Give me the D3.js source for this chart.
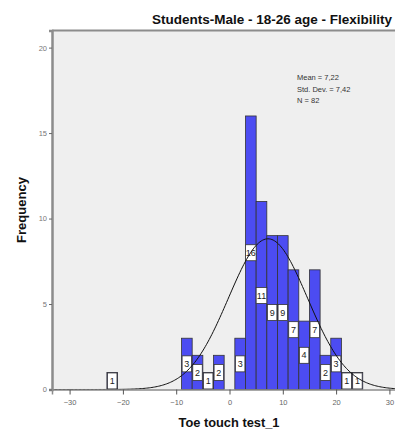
<!DOCTYPE html>
<html>
<head>
<meta charset="utf-8">
<script src="https://cdn.jsdelivr.net/npm/d3@7"></script>
<style>
  html, body { margin: 0; padding: 0; background: #fff; }
  svg { display: block; font-family: "Liberation Sans", Arial, sans-serif; }
</style>
</head>
<body>
<svg id="chart" width="395" height="431"></svg>
<script>
// histogram bins (lower edge, width 2) and counts
const binLow = [-23, -9, -7, -5, -3, 1, 3, 5, 7, 9, 11, 13, 15, 17, 19, 21, 23];
const counts = [1, 3, 2, 1, 2, 3, 16, 11, 9, 9, 7, 4, 7, 2, 3, 1, 1];
const binWidth = 2;

const xTicks = [-30, -20, -10, 0, 10, 20, 30];
const yTicks = [0, 5, 10, 15, 20];

const mean = 7.22;
const sd = 7.42;
const n = 82;
const statLines = ['Mean = 7,22', 'Std. Dev. = 7,42', 'N = 82'];

const title = 'Students-Male - 18-26 age - Flexibility';
const xTitle = 'Toe touch test_1';
const yTitle = 'Frequency';

const svg = d3.select('#chart');

const x = d3.scaleLinear().domain([-33.3, 33.3]).range([52, 407]);
const y = d3.scaleLinear().domain([0, 21]).range([389.5, 30.5]);

// plot background
svg.append('rect')
  .attr('x', x(-33.3)).attr('y', y(21))
  .attr('width', x(33.3) - x(-33.3))
  .attr('height', y(0) - y(21))
  .attr('fill', '#efefef');

// frame top
svg.append('line')
  .attr('x1', x(-33.3)).attr('x2', 400)
  .attr('y1', y(21)).attr('y2', y(21))
  .attr('stroke', '#8c8c8c').attr('stroke-width', 2);

// title
svg.append('text')
  .attr('x', 392).attr('y', 24)
  .attr('text-anchor', 'end')
  .attr('textLength', 240)
  .attr('lengthAdjust', 'spacingAndGlyphs')
  .style('font-size', '12px').style('font-weight', 'bold')
  .attr('fill', '#111')
  .text(title);

const data = binLow.map((b, i) => ({ low: b, count: counts[i] }));

// bars
svg.selectAll('.bar')
  .data(data)
  .enter()
  .append('rect')
  .attr('class', 'bar')
  .attr('x', d => x(d.low))
  .attr('y', d => y(d.count))
  .attr('width', d => x(d.low + binWidth) - x(d.low))
  .attr('height', d => y(0) - y(d.count))
  .attr('fill', '#4c4cf2')
  .attr('stroke', '#333')
  .attr('stroke-width', 0.8);

// count labels at bar middle
const boxW = d => Math.min(String(d.count).length > 1 ? 13 : 9.5, x(d.low + binWidth) - x(d.low));
const boxH = d => Math.min(16, y(0) - y(d.count));

const labels = svg.selectAll('.lab')
  .data(data)
  .enter()
  .append('g')
  .attr('class', 'lab')
  .attr('transform', d => `translate(${x(d.low + binWidth / 2)},${(y(0) + y(d.count)) / 2})`);

labels.append('rect')
  .attr('x', d => -boxW(d) / 2)
  .attr('y', d => -boxH(d) / 2)
  .attr('width', boxW)
  .attr('height', boxH)
  .attr('fill', '#fff')
  .attr('stroke', '#333')
  .attr('stroke-width', 0.8);

labels.append('text')
  .attr('text-anchor', 'middle')
  .attr('dy', '0.35em')
  .style('font-size', '9px')
  .attr('fill', '#222')
  .text(d => d.count);

// normal curve
const curvePts = d3.range(-33.3, 33.31, 0.25).map(v => ({
  v,
  f: n * binWidth / (sd * Math.sqrt(2 * Math.PI)) * Math.exp(-0.5 * ((v - mean) / sd) ** 2)
}));
svg.append('path')
  .datum(curvePts)
  .attr('fill', 'none')
  .attr('stroke', '#111')
  .attr('stroke-width', 1)
  .attr('d', d3.line().x(d => x(d.v)).y(d => y(d.f)).curve(d3.curveBasis));

// x axis
const xAxis = svg.append('g')
  .attr('transform', `translate(0,${y(0)})`)
  .call(d3.axisBottom(x).tickValues(xTicks).tickSize(5).tickPadding(5));
xAxis.select('.domain').attr('stroke', '#8c8c8c').attr('stroke-width', 1.5);
xAxis.selectAll('.tick line').attr('stroke', '#555');
xAxis.selectAll('.tick text').style('font-size', '7.5px').attr('fill', '#666');

// y axis
const yAxis = svg.append('g')
  .attr('transform', `translate(${x(-33.3)},0)`)
  .call(d3.axisLeft(y).tickValues(yTicks).tickSize(3).tickPadding(2));
yAxis.select('.domain').attr('stroke', '#8c8c8c').attr('stroke-width', 2.5);
yAxis.selectAll('.tick line').attr('stroke', '#666');
yAxis.selectAll('.tick text').style('font-size', '7.5px').attr('fill', '#777');

// stats box
svg.append('g')
  .selectAll('text')
  .data(statLines)
  .enter()
  .append('text')
  .attr('x', 297)
  .attr('y', (d, i) => 80 + i * 11.5)
  .style('font-size', '7.5px')
  .attr('fill', '#333')
  .text(d => d);

// axis titles
svg.append('text')
  .attr('x', 229).attr('y', 427)
  .attr('text-anchor', 'middle')
  .attr('textLength', 101)
  .attr('lengthAdjust', 'spacingAndGlyphs')
  .style('font-size', '12px').style('font-weight', 'bold')
  .attr('fill', '#111')
  .text(xTitle);

svg.append('text')
  .attr('transform', 'translate(26,210) rotate(-90)')
  .attr('text-anchor', 'middle')
  .attr('textLength', 66)
  .attr('lengthAdjust', 'spacingAndGlyphs')
  .style('font-size', '12px').style('font-weight', 'bold')
  .attr('fill', '#111')
  .text(yTitle);
</script>
</body>
</html>
